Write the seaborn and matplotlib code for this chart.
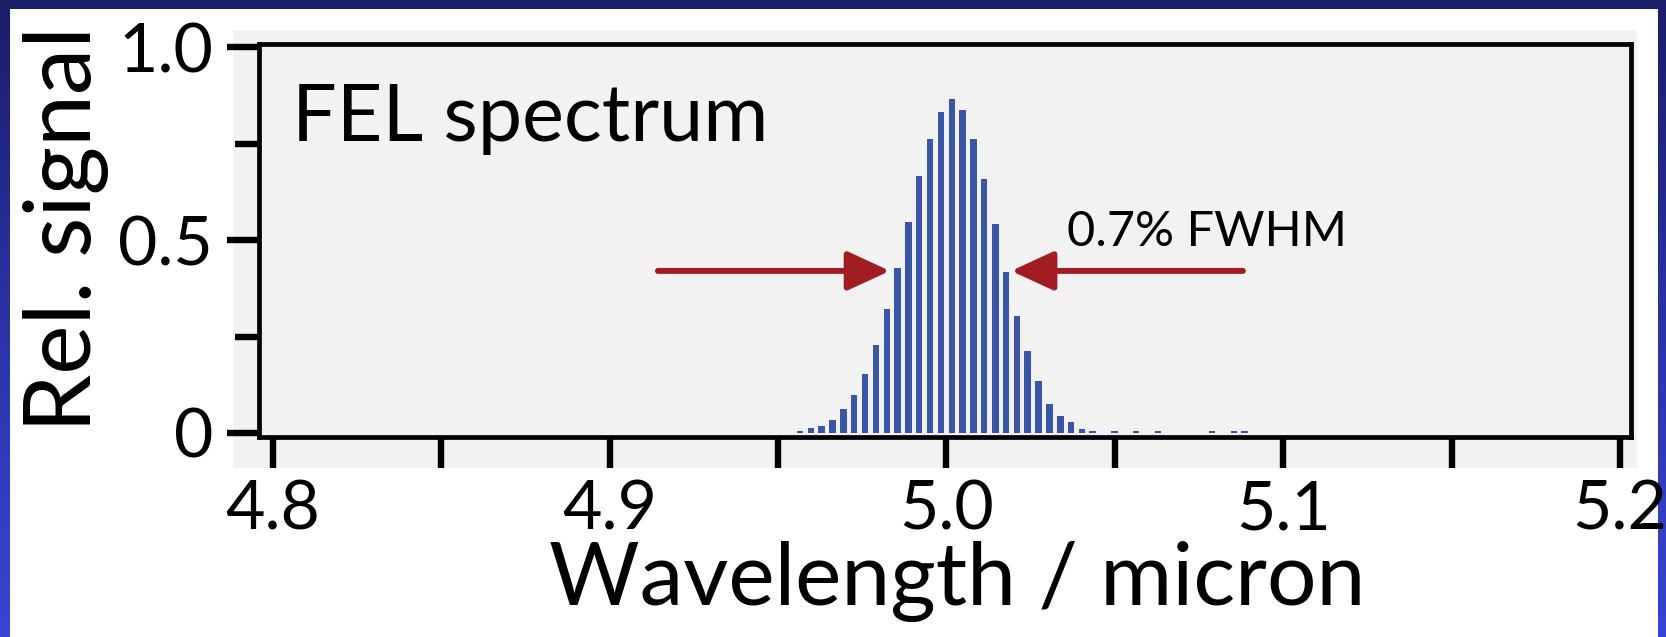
import numpy as np
import matplotlib
matplotlib.use("Agg")
import matplotlib.pyplot as plt
from matplotlib.colors import LinearSegmentedColormap
from matplotlib.patches import Rectangle
import seaborn as sns

# FEL output spectrum: wavelength bins (micron) and relative signal
wavelength = [4.9565, 4.9597, 4.9629, 4.9662, 4.9694, 4.9726, 4.9758, 4.9790,
              4.9823, 4.9855, 4.9887, 4.9919, 4.9951, 4.9984, 5.0016, 5.0048,
              5.0080, 5.0112, 5.0145, 5.0177, 5.0209, 5.0241, 5.0273, 5.0306,
              5.0338, 5.0370, 5.0402, 5.0434, 5.0467, 5.0499, 5.0531, 5.0563,
              5.0595, 5.0628, 5.0660, 5.0692, 5.0724, 5.0756, 5.0789, 5.0821,
              5.0853, 5.0885]
signal = [0.006, 0.013, 0.017, 0.034, 0.062, 0.099, 0.152, 0.228,
          0.321, 0.428, 0.546, 0.666, 0.763, 0.833, 0.865, 0.838,
          0.763, 0.659, 0.541, 0.417, 0.303, 0.212, 0.136, 0.076,
          0.043, 0.028, 0.011, 0.006, 0.0, 0.005, 0.0, 0.005,
          0.0, 0.005, 0.0, 0.0, 0.0, 0.0, 0.005, 0.0,
          0.005, 0.005]

x_ticks = [4.8, 4.9, 5.0, 5.1, 5.2]
x_tick_labels = ["4.8", "4.9", "5.0", "5.1", "5.2"]
x_minor_ticks = [4.85, 4.95, 5.05, 5.15]
y_ticks = [0.0, 0.5, 1.0]
y_tick_labels = ["0", "0.5", "1.0"]
y_minor_ticks = [0.25, 0.75]

# FWHM markers: arrow tails and tips (micron) at the half-maximum level
fwhm_level = 0.42
left_arrow = (4.9143, 4.9832)
right_arrow = (5.0880, 5.0192)

sns.set_style("ticks")
plt.rcParams["font.family"] = ["Lato", "DejaVu Sans"]
plt.rcParams["text.color"] = "black"
plt.rcParams["axes.labelcolor"] = "black"
plt.rcParams["xtick.color"] = "black"
plt.rcParams["ytick.color"] = "black"

W, H = 1666, 637
fig = plt.figure(figsize=(W / 100, H / 100), dpi=100)

# slide-style frame: blue gradient border, white card, grey plot panel
bg = fig.add_axes([0, 0, 1, 1], zorder=-10)
bg.set_xlim(0, 1)
bg.set_ylim(0, 1)
bg.axis("off")
cmap = LinearSegmentedColormap.from_list("frame", ["#1a1d68", "#2a33a6", "#3945d4"])
bg.imshow(np.linspace(0, 1, 256).reshape(-1, 1), cmap=cmap, aspect="auto",
          extent=[0, 1, 0, 1], origin="upper")
bg.add_patch(Rectangle((10 / W, 0), (1658 - 10) / W, (H - 9) / H,
                       transform=bg.transAxes, facecolor="white", edgecolor="none"))
bg.add_patch(Rectangle((233 / W, (H - 468) / H), (1637 - 233) / W, (468 - 30) / H,
                       transform=bg.transAxes, facecolor="#f2f2f2", edgecolor="none"))

ax_l, ax_r, ax_t, ax_b = 259, 1631, 44, 437
ax = fig.add_axes([ax_l / W, (H - ax_b) / H, (ax_r - ax_l) / W, (ax_b - ax_t) / H])
ax.patch.set_alpha(0)

sns.barplot(x=wavelength, y=signal, native_scale=True, width=0.6,
            color="#3a55a6", saturation=1, errorbar=None, linewidth=0, ax=ax)

ax.set_xlim(4.79584, 5.20327)
ax.set_ylim(-0.0104, 1.008)

ax.set_xticks(x_ticks, x_tick_labels)
ax.set_xticks(x_minor_ticks, minor=True)
ax.set_yticks(y_ticks, y_tick_labels)
ax.set_yticks(y_minor_ticks, minor=True)

ax.tick_params(axis="x", which="both", direction="out", length=22.5, width=4.6,
               pad=8, labelsize=49, color="black", labelcolor="black")
ax.tick_params(axis="y", which="major", direction="out", length=23, width=4.6,
               pad=10, labelsize=49, color="black", labelcolor="black")
ax.tick_params(axis="y", which="minor", direction="out", length=17, width=4.6,
               color="black")
for side in ["left", "right", "top", "bottom"]:
    ax.spines[side].set_visible(True)
    ax.spines[side].set_linewidth(3.4)
    ax.spines[side].set_color("black")

ax.set_xlabel("Wavelength / micron", fontsize=63, color="black")
ax.xaxis.set_label_coords((957 - ax_l) / (ax_r - ax_l), -0.265)
ax.set_ylabel("Rel. signal", fontsize=67, color="black")
ax.yaxis.set_label_coords(-0.109, (ax_b - 229) / (ax_b - ax_t))

ax.text(0.024, (ax_b - 141) / (ax_b - ax_t), "FEL spectrum", transform=ax.transAxes,
        fontsize=57, va="baseline", ha="left", color="black")

arrow_color = "#a11d22"
for tail, tip in (left_arrow, right_arrow):
    ax.annotate("", xy=(tip, fwhm_level), xytext=(tail, fwhm_level),
                arrowprops=dict(arrowstyle="-|>,head_length=2.6,head_width=1.2",
                                mutation_scale=10, lw=4.3, color=arrow_color,
                                shrinkA=0, shrinkB=0))
ax.text(5.0358, 0.484, "0.7% FWHM", fontsize=35, va="baseline", ha="left",
        color="black")

fig.savefig("out.png", dpi=100)
